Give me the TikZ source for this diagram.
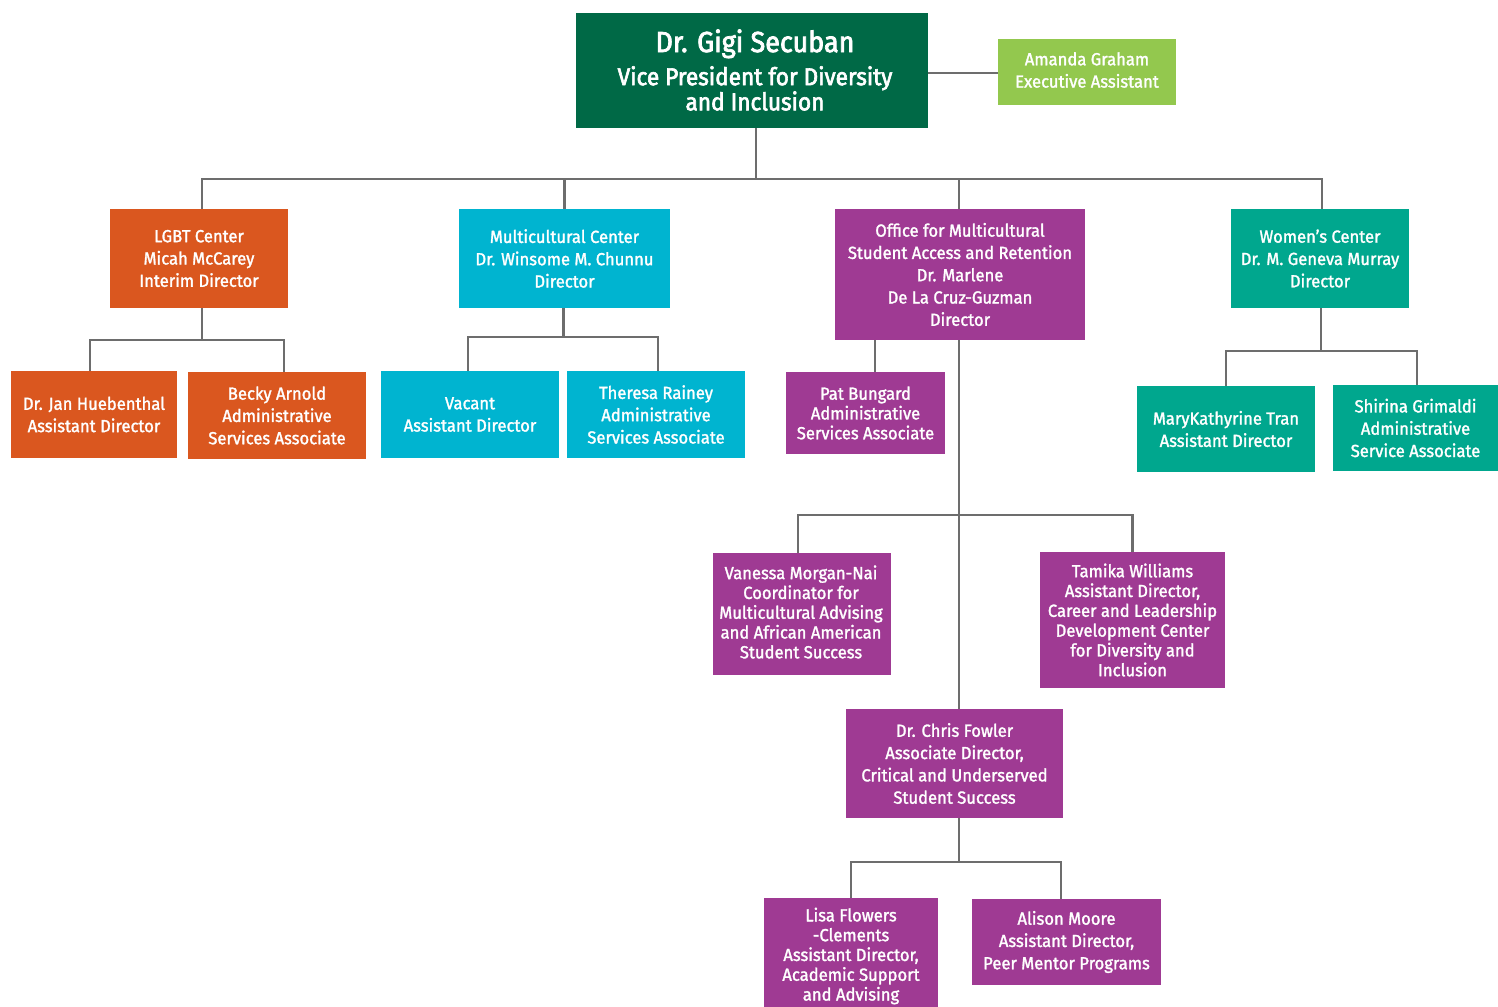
\documentclass[tikz,border=0pt]{standalone}
\usepackage{fontspec}
\setmainfont{Fira Sans}[FakeStretch=0.95,FakeBold=1.6]
\newfontfamily\titlefont{Fira Sans}[FakeStretch=0.93,FakeBold=2.6]
\definecolor{dgreen}{HTML}{006946}
\definecolor{lgreen}{HTML}{93C84E}
\definecolor{orng}{HTML}{DA571F}
\definecolor{cyn}{HTML}{00B4D0}
\definecolor{purp}{HTML}{9F3A93}
\definecolor{teal2}{HTML}{00A78E}
\definecolor{ln}{HTML}{6D6D6D}
\tikzset{
  box/.style={rectangle, inner sep=0pt, align=center, text=white, font=\fontsize{17.5}{22.3}\selectfont},
  tight/.style={font=\fontsize{17.5}{19.8}\selectfont},
  conn/.style={draw=ln, line width=2.6pt},
}
\begin{document}
\begin{tikzpicture}[x=1pt,y=-1pt]
\useasboundingbox (0,0) rectangle (1498,1006);
\clip (0,0) rectangle (1498,1006);
% nodes
\node[box, fill=dgreen, minimum width=352, minimum height=115] (vp) at (752,70.5) {};
\node[align=center, text=white, inner sep=0pt] (vpt) at (755,70)
  {{\titlefont\fontsize{29}{30}\selectfont Dr. Gigi Secuban}\\[7pt]{\titlefont\fontsize{24.3}{24.5}\selectfont Vice President for Diversity}\\{\titlefont\fontsize{24.3}{24.5}\selectfont and Inclusion}};
\node[box, fill=lgreen, minimum width=178, minimum height=66] (ag) at (1087,72) {};
\node[box] (agt) at (1087,70) {Amanda Graham\\Executive Assistant};

\node[box, fill=orng, minimum width=178, minimum height=99] (lgbt) at (199,258.5) {LGBT Center\\Micah McCarey\\Interim Director};
\node[box, fill=orng, minimum width=166, minimum height=87] (jan) at (94,414.5) {Dr. Jan Huebenthal\\Assistant Director};
\node[box, fill=orng, minimum width=178, minimum height=87] (becky) at (277,415.5) {Becky Arnold\\Administrative\\Services Associate};

\node[box, fill=cyn, minimum width=211, minimum height=99] (mc) at (564.5,258.5) {Multicultural Center\\Dr. Winsome M. Chunnu\\Director};
\node[box, fill=cyn, minimum width=178, minimum height=87] (vac) at (470,414.5) {Vacant\\Assistant Director};
\node[box, fill=cyn, minimum width=178, minimum height=87] (ther) at (656,414.5) {Theresa Rainey\\Administrative\\Services Associate};

\node[box, fill=purp, minimum width=250, minimum height=131] (om) at (960,274.5) {Office for Multicultural\\Student Access and Retention\\Dr. Marlene\\De La Cruz-Guzman\\Director};
\node[box, tight, fill=purp, minimum width=159, minimum height=82] (pat) at (865.5,413) {Pat Bungard\\Administrative\\Services Associate};
\node[box, tight, fill=purp, minimum width=178, minimum height=122] (van) at (802,614) {};
\node[box, tight] (vant) at (801,612) {Vanessa Morgan-Nai\\Coordinator for\\Multicultural Advising\\and African American\\Student Success};
\node[box, tight, fill=purp, minimum width=185, minimum height=136] (tam) at (1132.5,620) {Tamika Williams\\Assistant Director,\\Career and Leadership\\Development Center\\for Diversity and\\Inclusion};
\node[box, fill=purp, minimum width=217, minimum height=109] (cf) at (954.5,763.5) {Dr. Chris Fowler\\Associate Director,\\Critical and Underserved\\Student Success};
\node[box, tight, fill=purp, minimum width=174, minimum height=116] (lisa) at (851,956) {Lisa Flowers\\-Clements\\Assistant Director,\\Academic Support\\and Advising};
\node[box, fill=purp, minimum width=189, minimum height=86] (ali) at (1066.5,942) {Alison Moore\\Assistant Director,\\Peer Mentor Programs};

\node[box, fill=teal2, minimum width=178, minimum height=99] (wc) at (1320,258.5) {Women’s Center\\Dr. M. Geneva Murray\\Director};
\node[box, fill=teal2, minimum width=178, minimum height=86] (mkt) at (1226,429) {MaryKathyrine Tran\\Assistant Director};
\node[box, fill=teal2, minimum width=165, minimum height=86] (shir) at (1415.5,428) {Shirina Grimaldi\\Administrative\\Service Associate};

% bus coordinates
\coordinate (bus0) at (0,179);
\coordinate (busL) at (0,340);
\coordinate (busM) at (0,337);
\coordinate (busO) at (0,515);
\coordinate (busC) at (0,862);
\coordinate (busW) at (0,351);

% connectors
\draw[conn] ([yshift=-2.5pt]vp.east) -- ([yshift=-2.5pt]ag.west |- vp.east);
\draw[conn] ([xshift=4pt]vp.south) -- ([xshift=4pt]vp.south |- bus0);
\draw[conn] ([xshift=3pt]lgbt.north) -- ([xshift=3pt]lgbt.north |- bus0) -- ([xshift=2pt]wc.north |- bus0) -- ([xshift=2pt]wc.north);
\draw[conn] (mc.north) -- (mc.north |- bus0);
\draw[conn] ([xshift=-1pt]om.north) -- ([xshift=-1pt]om.north |- bus0);

\draw[conn] ([xshift=3pt]lgbt.south) -- ([xshift=3pt]lgbt.south |- busL);
\draw[conn] ([xshift=-4pt]jan.north) -- ([xshift=-4pt]jan.north |- busL) -- ([xshift=7pt]becky.north |- busL) -- ([xshift=7pt]becky.north);

\draw[conn] ([xshift=-1pt]mc.south) -- ([xshift=-1pt]mc.south |- busM);
\draw[conn] ([xshift=-2pt]vac.north) -- ([xshift=-2pt]vac.north |- busM) -- ([xshift=2pt]ther.north |- busM) -- ([xshift=2pt]ther.north);

\draw[conn] ([xshift=9.5pt]pat.north |- om.south) -- ([xshift=9.5pt]pat.north);
\draw[conn] ([xshift=-1pt]om.south) -- ([xshift=-1pt]om.south |- cf.north);
\draw[conn] ([xshift=-4pt]van.north) -- ([xshift=-4pt]van.north |- busO) -- (tam.north |- busO) -- (tam.north);

\draw[conn] ([xshift=4.5pt]cf.south) -- ([xshift=4.5pt]cf.south |- busC);
\draw[conn] (lisa.north) -- (lisa.north |- busC) -- ([xshift=-5.5pt]ali.north |- busC) -- ([xshift=-5.5pt]ali.north);

\draw[conn] ([xshift=1pt]wc.south) -- ([xshift=1pt]wc.south |- busW);
\draw[conn] (mkt.north) -- (mkt.north |- busW) -- ([xshift=1.5pt]shir.north |- busW) -- ([xshift=1.5pt]shir.north);
\end{tikzpicture}
\end{document}
